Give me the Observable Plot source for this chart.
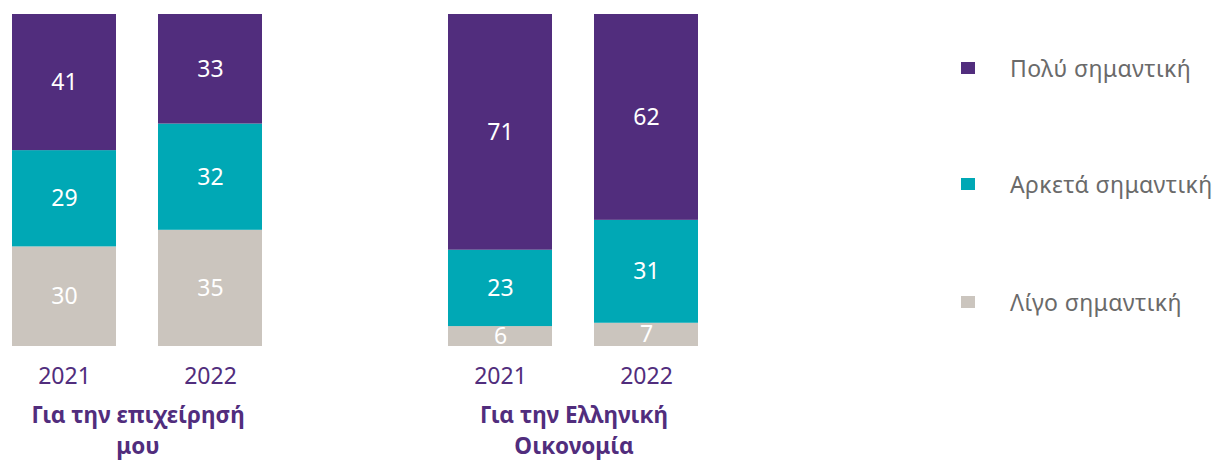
<!DOCTYPE html>
<html>
<head>
<meta charset="utf-8">
<script src="https://cdn.jsdelivr.net/npm/d3@7"></script>
<script src="https://cdn.jsdelivr.net/npm/@observablehq/plot@0.6"></script>
<style>
  html, body { margin: 0; padding: 0; background: #fff; }
  #wrap { position: relative; width: 1221px; height: 462px; font-family: "Noto Sans", sans-serif; }
  #chart { position: absolute; left: 0; top: 0; }
  .leg { position: absolute; left: 961px; display: flex; align-items: center; }
  .leg .sw { width: 14px; height: 12px; }
  .leg .lb { position: absolute; left: 49px; white-space: nowrap; font-size: 23px; letter-spacing: 0.4px; color: #6a6a6a; }
</style>
</head>
<body>
<div id="wrap"><div id="chart"></div></div>
<script>
const groups = ["Για την επιχείρησή\nμου", "Για την Ελληνική\nΟικονομία"];
const years = ["2021", "2022"];
const categories = ["Πολύ σημαντική", "Αρκετά σημαντική", "Λίγο σημαντική"];
const colors = ["#512d7d", "#00a8b5", "#cbc5be"];
// values per group, per year, in category order [Πολύ, Αρκετά, Λίγο]
const business2021 = [41, 29, 30];
const business2022 = [33, 32, 35];
const economy2021 = [71, 23, 6];
const economy2022 = [62, 31, 7];

const seriesByGroup = [[business2021, business2022], [economy2021, economy2022]];
const data = [];
groups.forEach((g, gi) => {
  years.forEach((yr, yi) => {
    // stack bottom-up: Λίγο, Αρκετά, Πολύ
    for (let ci = categories.length - 1; ci >= 0; ci--) {
      data.push({group: g, year: yr, category: categories[ci], value: seriesByGroup[gi][yi][ci]});
    }
  });
});

const purple = "#512d7d";
const chart = Plot.plot({
  width: 720,
  height: 462,
  marginTop: 14,
  marginBottom: 116,
  marginLeft: 11,
  marginRight: 21,
  style: {fontFamily: "Noto Sans, sans-serif", background: "transparent"},
  fx: {domain: groups, axis: null, paddingInner: 0.425, paddingOuter: 0},
  x: {domain: years, padding: 0.2857, paddingOuter: 0, label: null},
  y: {domain: [0, 100], axis: null},
  color: {domain: categories, range: colors},
  marks: [
    Plot.barY(data, {fx: "group", x: "year", y: "value", fill: "category", order: null}),
    Plot.text(data, Plot.stackY({fx: "group", x: "year", y: "value", z: "category", order: null, text: "value", fill: "white", fontSize: 23})),
    Plot.axisX({tickSize: 0, tickPadding: 21, fontSize: 23, color: purple, label: null}),
    Plot.text(groups, {fx: d => d, text: d => d, frameAnchor: "bottom", lineAnchor: "top", dy: 55, fontSize: 22.5, fontWeight: "bold", fill: purple, lineHeight: 1.36})
  ]
});
document.getElementById("chart").appendChild(chart);

const wrap = document.getElementById("wrap");
const legendY = [68, 184, 302];
categories.forEach((c, i) => {
  const item = document.createElement("div");
  item.className = "leg";
  item.style.top = (legendY[i] - 6) + "px";
  const sw = document.createElement("div");
  sw.className = "sw";
  sw.style.background = colors[i];
  const lb = document.createElement("div");
  lb.className = "lb";
  lb.textContent = c;
  item.appendChild(sw);
  item.appendChild(lb);
  wrap.appendChild(item);
});
</script>
</body>
</html>
